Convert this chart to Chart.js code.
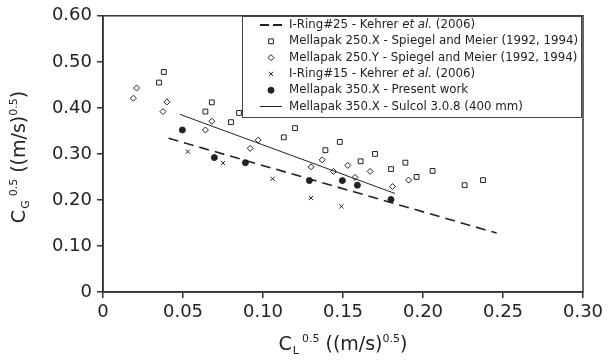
<!DOCTYPE html>
<html>
<head>
<meta charset="utf-8">
<script src="https://cdn.jsdelivr.net/npm/chart.js@4"></script>
<style>
  html, body { margin: 0; padding: 0; background: #fff; }
  #wrap { width: 609px; height: 361px; position: relative; }
</style>
</head>
<body>
<div id="wrap"><canvas id="chart"></canvas></div>
<script>
// axis ticks
const xTickValues = [0, 0.05, 0.10, 0.15, 0.20, 0.25, 0.30];
const xTickLabels = ['0', '0.05', '0.10', '0.15', '0.20', '0.25', '0.30'];
const yTickValues = [0, 0.10, 0.20, 0.30, 0.40, 0.50, 0.60];
const yTickLabels = ['0', '0.10', '0.20', '0.30', '0.40', '0.50', '0.60'];

// I-Ring#25 - Kehrer et al. (dashed line)
const ring25X = [0.041, 0.246];
const ring25Y = [0.334, 0.128];

// Mellapak 250.X - Spiegel and Meier (squares)
const m250xX = [0.035, 0.038, 0.064, 0.068, 0.080, 0.085, 0.113, 0.120, 0.139, 0.148, 0.161, 0.170, 0.180, 0.189, 0.196, 0.206, 0.226, 0.2375];
const m250xY = [0.455, 0.478, 0.392, 0.412, 0.369, 0.389, 0.336, 0.356, 0.308, 0.326, 0.284, 0.300, 0.267, 0.281, 0.250, 0.263, 0.232, 0.243];

// Mellapak 250.Y - Spiegel and Meier (diamonds)
const m250yX = [0.019, 0.021, 0.0375, 0.040, 0.064, 0.068, 0.092, 0.097, 0.130, 0.137, 0.144, 0.153, 0.1575, 0.167, 0.181, 0.191];
const m250yY = [0.421, 0.443, 0.392, 0.413, 0.352, 0.371, 0.312, 0.330, 0.272, 0.287, 0.262, 0.275, 0.249, 0.262, 0.229, 0.243];

// I-Ring#15 - Kehrer et al. (crosses)
const ring15X = [0.053, 0.075, 0.106, 0.130, 0.149];
const ring15Y = [0.305, 0.280, 0.246, 0.204, 0.186];

// Mellapak 350.X - present work (filled circles)
const m350X = [0.0496, 0.0696, 0.089, 0.129, 0.1496, 0.159, 0.180];
const m350Y = [0.352, 0.292, 0.281, 0.242, 0.242, 0.232, 0.201];

// Mellapak 350.X - Sulcol 3.0.8 (solid line)
const sulcolX = [0.048, 0.1825];
const sulcolY = [0.386, 0.214];

const INK = '#222';
const FONT = '"DejaVu Sans", sans-serif';

const pts = (xs, ys) => xs.map((x, i) => ({ x, y: ys[i] }));

const legendItems = [
  { kind: 'dash', parts: [['I-Ring#25 - Kehrer ', 0], ['et al.', 1], [' (2006)', 0]] },
  { kind: 'rect', parts: [['Mellapak 250.X - Spiegel and Meier (1992, 1994)', 0]] },
  { kind: 'rectRot', parts: [['Mellapak 250.Y - Spiegel and Meier (1992, 1994)', 0]] },
  { kind: 'crossRot', parts: [['I-Ring#15 - Kehrer ', 0], ['et al.', 1], [' (2006)', 0]] },
  { kind: 'circle', parts: [['Mellapak 350.X - Present work', 0]] },
  { kind: 'line', parts: [['Mellapak 350.X - Sulcol 3.0.8 (400 mm)', 0]] },
];

// draws "C_sub^0.5 ((m/s)^0.5)" centred on 0,0 (baseline at 0)
function drawAxisTitle(ctx, sub, gap){
  const big = '19px ' + FONT, small = '11px ' + FONT;
  ctx.font = big; const wC = ctx.measureText('C').width;
  const wMid = ctx.measureText(' ((m/s)').width;
  const wEnd = ctx.measureText(')').width;
  ctx.font = small; const wSub = ctx.measureText(sub).width;
  const wSup = ctx.measureText('0.5').width;
  const total = wC + 1 + wSub + gap + wSup + wMid + wSup + wEnd;
  let x = -total / 2;
  ctx.textBaseline = 'alphabetic'; ctx.textAlign = 'left'; ctx.fillStyle = INK;
  ctx.font = big; ctx.fillText('C', x, 0); x += wC + 1;
  ctx.font = small; ctx.fillText(sub, x, 4); x += wSub + gap;
  ctx.fillText('0.5', x, -8); x += wSup;
  ctx.font = big; ctx.fillText(' ((m/s)', x, 0); x += wMid;
  ctx.font = small; ctx.fillText('0.5', x, -8); x += wSup;
  ctx.font = big; ctx.fillText(')', x, 0);
}

const decorPlugin = {
  id: 'decor',
  afterDraw(chart){
    const ctx = chart.ctx, a = chart.chartArea;
    ctx.save();
    // frame
    ctx.strokeStyle = '#333'; ctx.lineWidth = 1.5;
    ctx.strokeRect(a.left, a.top, a.right - a.left, a.bottom - a.top);

    // legend box
    const lx = 242, ly = 16, lw = 339, lh = 101;
    ctx.fillStyle = '#fff'; ctx.fillRect(lx, ly, lw, lh);
    ctx.strokeStyle = '#444'; ctx.lineWidth = 1;
    ctx.strokeRect(lx + 0.5, ly + 0.5, lw, lh);
    legendItems.forEach((it, i) => {
      const y = 25 + i * 16.3;
      ctx.strokeStyle = INK;
      if(it.kind === 'dash' || it.kind === 'line'){
        ctx.beginPath();
        ctx.lineWidth = it.kind === 'dash' ? 2 : 1;
        ctx.setLineDash(it.kind === 'dash' ? [9, 4] : []);
        ctx.moveTo(260, y); ctx.lineTo(282, y); ctx.stroke();
        ctx.setLineDash([]);
      } else {
        ctx.lineWidth = 1;
        ctx.fillStyle = it.kind === 'circle' ? INK : '#fff';
        Chart.helpers.drawPoint(ctx, { pointStyle: it.kind, radius: it.kind === 'rect' ? 3.4 : 3, borderWidth: 1 }, 271, y);
      }
      let x = 289;
      ctx.textBaseline = 'middle'; ctx.textAlign = 'left'; ctx.fillStyle = INK;
      it.parts.forEach(([t, ital]) => {
        ctx.font = (ital ? 'italic ' : '') + '11.8px ' + FONT;
        ctx.fillText(t, x, y);
        x += ctx.measureText(t).width;
      });
    });

    // axis titles
    ctx.save();
    ctx.translate((a.left + a.right) / 2, 350);
    drawAxisTitle(ctx, 'L', 3);
    ctx.restore();
    ctx.save();
    ctx.translate(25, 157);
    ctx.rotate(-Math.PI / 2);
    drawAxisTitle(ctx, 'G', 4);
    ctx.restore();
    ctx.restore();
  }
};

const pointDs = (label, xs, ys, style, radius, filled) => ({
  label, data: pts(xs, ys), showLine: false,
  pointStyle: style, pointRadius: radius, pointHoverRadius: radius,
  pointBorderWidth: 1, borderColor: INK,
  pointBackgroundColor: filled ? INK : 'rgba(0,0,0,0)'
});

new Chart(document.getElementById('chart'), {
  type: 'scatter',
  data: {
    datasets: [
      { label: 'I-Ring#25 - Kehrer et al. (2006)', data: pts(ring25X, ring25Y), showLine: true,
        borderColor: INK, borderWidth: 1.6, borderDash: [10, 6], pointRadius: 0, fill: false },
      { label: 'Mellapak 350.X - Sulcol 3.0.8 (400 mm)', data: pts(sulcolX, sulcolY), showLine: true,
        borderColor: INK, borderWidth: 1, pointRadius: 0, fill: false },
      pointDs('Mellapak 250.X - Spiegel and Meier (1992, 1994)', m250xX, m250xY, 'rect', 3.4, false),
      pointDs('Mellapak 250.Y - Spiegel and Meier (1992, 1994)', m250yX, m250yY, 'rectRot', 3, false),
      pointDs('I-Ring#15 - Kehrer et al. (2006)', ring15X, ring15Y, 'crossRot', 3, false),
      pointDs('Mellapak 350.X - Present work', m350X, m350Y, 'circle', 3, true),
    ]
  },
  options: {
    responsive: true,
    maintainAspectRatio: false,
    animation: false,
    layout: { padding: { top: 13, right: 26, left: 0, bottom: 0 } },
    plugins: { legend: { display: false }, tooltip: { enabled: false } },
    scales: {
      x: {
        type: 'linear', min: 0, max: 0.3,
        afterBuildTicks: s => { s.ticks = xTickValues.map(v => ({ value: v })); },
        afterFit: s => { s.height = 69; },
        ticks: { color: INK, font: { family: FONT, size: 18 }, padding: 4, maxRotation: 0,
          callback: (v, i) => xTickLabels[i] },
        grid: { drawOnChartArea: false, drawTicks: true, tickLength: 6, color: '#333', lineWidth: 1.5 },
        border: { display: true, color: '#333', width: 1.5 }
      },
      y: {
        type: 'linear', min: 0, max: 0.6,
        afterBuildTicks: s => { s.ticks = yTickValues.map(v => ({ value: v })); },
        afterFit: s => { s.width = 103; },
        ticks: { color: INK, font: { family: FONT, size: 18 }, padding: 5,
          callback: (v, i) => yTickLabels[i] },
        grid: { drawOnChartArea: false, drawTicks: true, tickLength: 6, color: '#333', lineWidth: 1.5 },
        border: { display: true, color: '#333', width: 1.5 }
      }
    }
  },
  plugins: [decorPlugin]
});
</script>
</body>
</html>
